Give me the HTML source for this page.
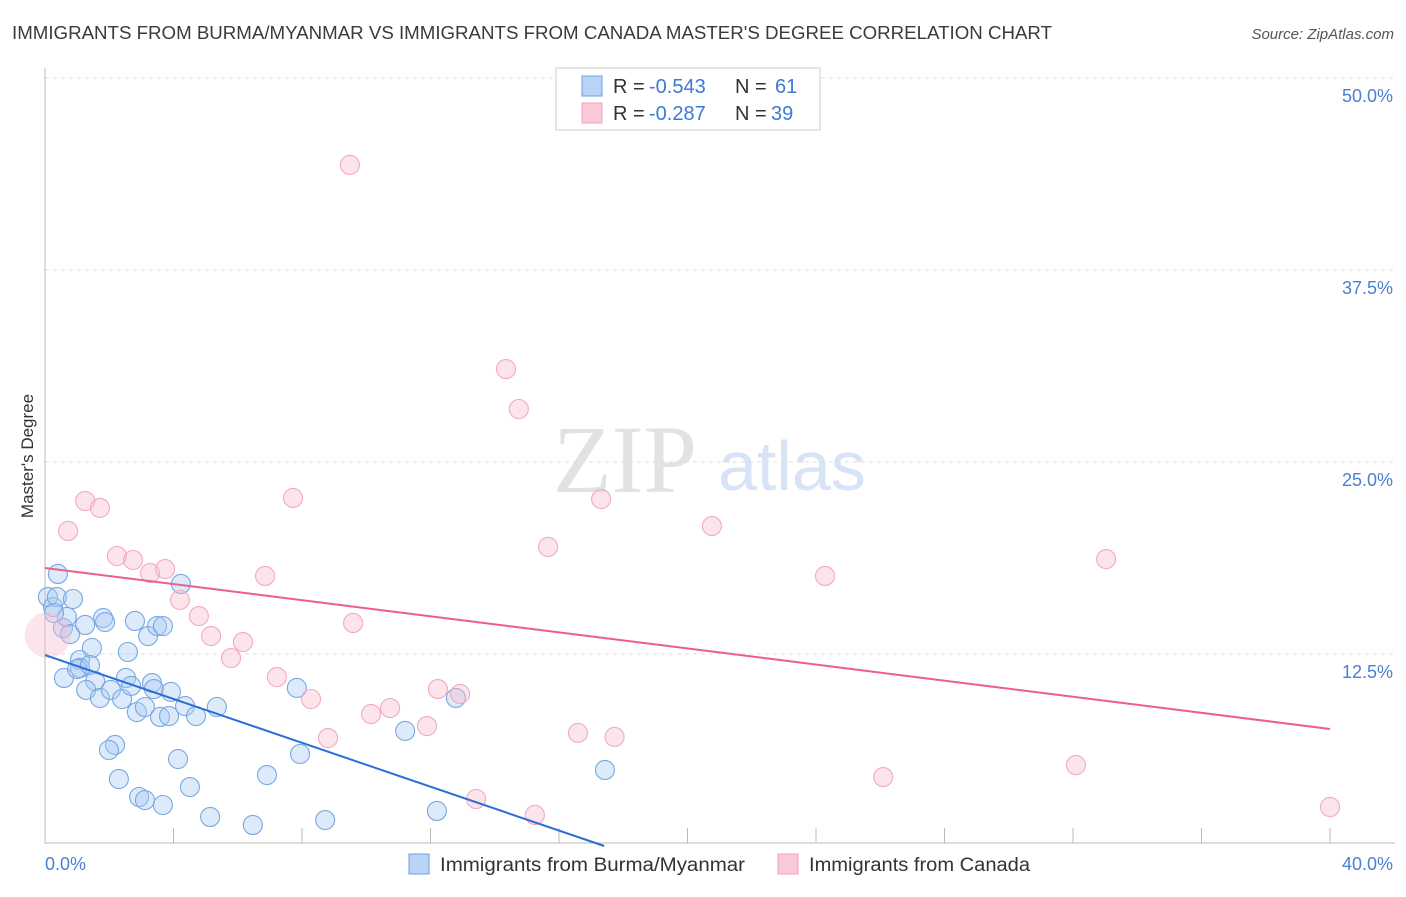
<!DOCTYPE html>
<html><head><meta charset="utf-8"><style>
body{margin:0;background:#fff;font-family:"Liberation Sans",sans-serif;}
</style></head><body>
<svg id="chart" width="1406" height="892" xmlns="http://www.w3.org/2000/svg">
<text x="12" y="39" font-size="18" fill="#3a3a3a" textLength="1040" lengthAdjust="spacingAndGlyphs">IMMIGRANTS FROM BURMA/MYANMAR VS IMMIGRANTS FROM CANADA MASTER'S DEGREE CORRELATION CHART</text>
<text x="1394" y="39" font-size="15" fill="#555" text-anchor="end" font-style="italic">Source: ZipAtlas.com</text>
<g>
<text x="553" y="492" font-size="96" font-family="Liberation Serif,serif" fill="#e2e2e2">ZIP</text>
<text x="718" y="490" font-size="70" fill="#d6e4f5">atlas</text>
</g>
<g id="grid"></g>
<line x1="45" y1="68" x2="45" y2="843" stroke="#bbb"/>
<line x1="45" y1="843" x2="1395" y2="843" stroke="#bbb"/>
<g id="ticks"></g>
<text transform="translate(33,456) rotate(-90)" font-size="17" fill="#333" text-anchor="middle">Master's Degree</text>
<text x="45" y="870" font-size="18" fill="#4a7fd4">0.0%</text>
<text x="1393" y="870" font-size="18" fill="#4a7fd4" text-anchor="end">40.0%</text>
<g id="marks"></g>
<g>
<rect x="556" y="68" width="264" height="62" fill="#fff" stroke="#ccc"/>
<rect x="582" y="76" width="20" height="20" fill="#b8d3f5" stroke="#6d9fe0"/>
<rect x="582" y="103" width="20" height="20" fill="#fac9d8" stroke="#f0a0b9"/>
<g font-size="20" fill="#333">
<text x="613" y="93">R =</text><text x="649" y="93" fill="#3d7ad6">-0.543</text><text x="735" y="93">N =</text><text x="775" y="93" fill="#3d7ad6">61</text></g>
<g font-size="20" fill="#333">
<text x="613" y="120">R =</text><text x="649" y="120" fill="#3d7ad6">-0.287</text><text x="735" y="120">N =</text><text x="771" y="120" fill="#3d7ad6">39</text></g>
</g>
<g>
<rect x="409" y="854" width="20" height="20" fill="#b8d3f5" stroke="#6d9fe0"/>
<text x="440" y="871" font-size="19" fill="#333" textLength="305" lengthAdjust="spacingAndGlyphs">Immigrants from Burma/Myanmar</text>
<rect x="778" y="854" width="20" height="20" fill="#fac9d8" stroke="#f0a0b9"/>
<text x="809" y="871" font-size="19" fill="#333" textLength="221" lengthAdjust="spacingAndGlyphs">Immigrants from Canada</text>
</g>
</svg>
<script>
const yTicks=[12.5,25,37.5,50];
const yTickLabels=["12.5%","25.0%","37.5%","50.0%"];
const xTicks=[4,8,12,16,20,24,28,32,36,40];
const blueX=[0.09,0.25,0.40,0.37,0.56,0.68,0.87,0.78,0.59,1.25,1.09,1.09,1.0,1.46,1.40,1.56,1.28,1.71,1.81,1.87,2.05,2.18,1.99,2.30,2.40,2.52,2.58,2.68,2.80,2.86,2.93,3.11,3.21,3.11,3.33,3.39,3.49,3.58,3.67,3.86,3.67,3.92,4.14,4.23,4.36,4.51,4.70,5.14,5.35,6.47,6.91,7.84,7.94,8.72,11.21,12.20,12.79,17.43,0.28];
const blueY=[16.21,15.56,17.71,16.21,14.19,14.91,16.08,13.80,10.94,14.39,12.11,11.59,11.52,12.89,11.78,10.74,10.16,9.64,14.84,14.58,10.16,6.58,6.25,4.36,9.57,10.94,12.63,10.42,14.65,8.72,3.19,2.99,13.67,9.05,10.61,10.22,14.32,8.40,14.32,8.46,2.67,10.03,5.66,17.06,9.11,3.84,8.46,1.89,9.05,1.37,4.62,10.29,5.99,1.69,7.49,2.28,9.64,4.95,15.17];
const pinkX=[9.49,14.35,14.75,17.31,20.76,15.66,24.28,33.03,7.72,1.25,1.71,0.72,2.24,2.74,3.27,3.74,4.20,4.79,5.17,6.16,5.79,6.85,7.22,8.28,9.59,10.15,10.74,11.89,12.23,12.92,8.81,16.59,17.73,13.42,15.25,26.09,32.09,40.0,0.09];
const pinkY=[44.34,31.05,28.45,22.59,20.83,19.47,17.58,18.68,22.66,22.46,22.01,20.51,18.88,18.62,17.77,18.03,16.02,14.97,13.67,13.28,12.24,17.58,11.0,9.57,14.52,8.59,8.98,7.81,10.22,9.90,7.03,7.36,7.10,3.06,2.02,4.49,5.27,2.54,13.74];
const blueTrend=[12.43,-0.714];
const pinkTrend=[18.1,-0.262];
const NS="http://www.w3.org/2000/svg";
const sx=v=>45+v*32.125;
const sy=v=>846-v*15.36;
function mk(tag,attrs,parent){const e=document.createElementNS(NS,tag);for(const k in attrs)e.setAttribute(k,attrs[k]);document.getElementById(parent).appendChild(e);return e;}
yTicks.forEach((t,i)=>{
 const g=mk('line',{x1:45,x2:1395,y1:sy(t),y2:sy(t),stroke:'#ddd','stroke-dasharray':'4,4'},'grid');
 
 
 const l=mk('text',{x:1393,y:sy(t)+24,'font-size':18,fill:'#4a7fd4','text-anchor':'end'},'grid');
 l.textContent=yTickLabels[i];
 
 
});
xTicks.forEach(t=>{
 const l=mk('line',{x1:sx(t),x2:sx(t),y1:828,y2:843,stroke:'#bbb'},'ticks');
 
 
});
blueX.forEach((x,i)=>{
 const c=mk('circle',{cx:sx(x),cy:sy(blueY[i]),r:9.5,fill:'rgba(170,202,242,0.4)',stroke:'#78a7e4','stroke-width':1.1},'marks');
 
 
});
pinkX.forEach((x,i)=>{
 const big=i===pinkX.length-1;
 const c=mk('circle',{cx:sx(x),cy:sy(pinkY[i]),r:big?23:9.5,fill:'rgba(248,188,206,0.4)',stroke:big?'none':'#f2a9c0','stroke-width':1.1},'marks');
 
 
});
const bEnd=-blueTrend[0]/blueTrend[1];
const bl=mk('line',{x1:sx(0),y1:sy(blueTrend[0]),x2:sx(bEnd),y2:sy(0),stroke:'#2a6fd6','stroke-width':2},'marks');


const pl=mk('line',{x1:sx(0),y1:sy(pinkTrend[0]),x2:sx(40),y2:sy(pinkTrend[0]+pinkTrend[1]*40),stroke:'#e8608c','stroke-width':2},'marks');


</script>
</body></html>
